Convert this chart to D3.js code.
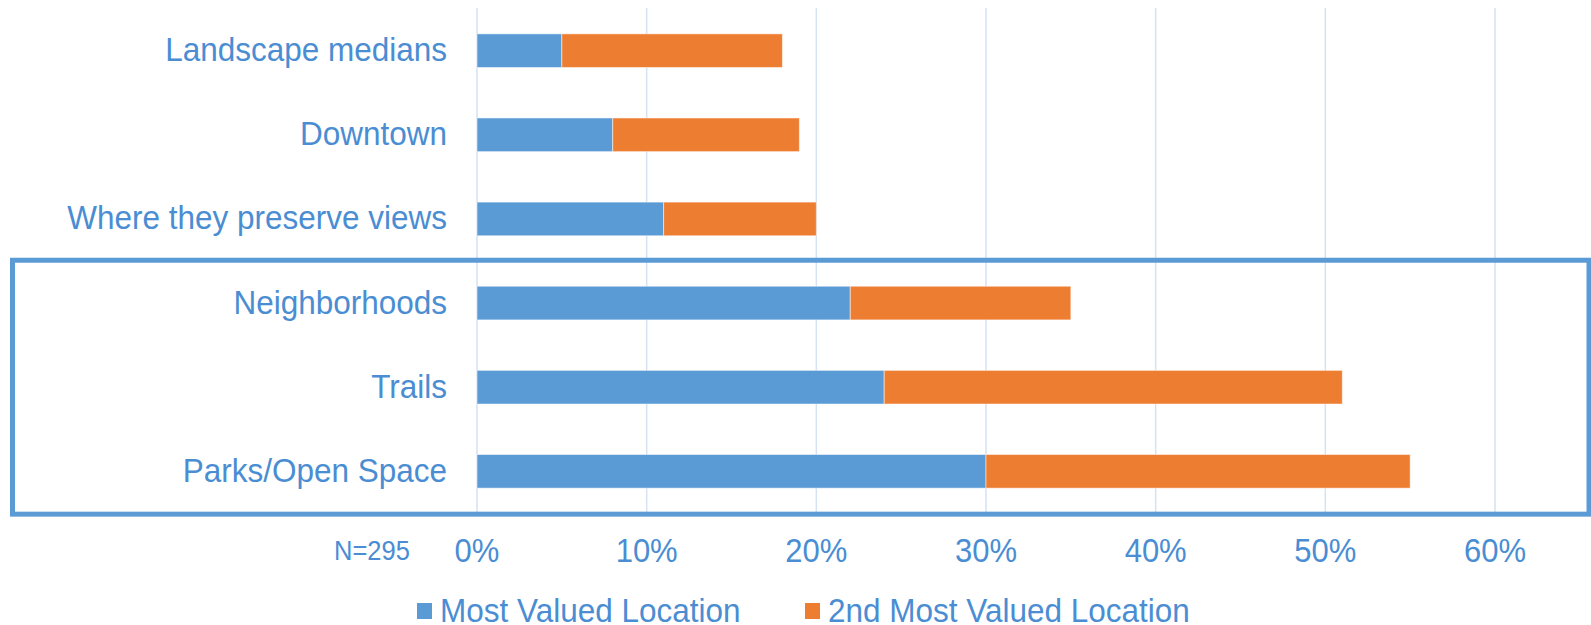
<!DOCTYPE html>
<html>
<head>
<meta charset="utf-8">
<script src="https://cdn.jsdelivr.net/npm/d3@7"></script>
<style>
  html, body { margin: 0; padding: 0; background: #fff; overflow: hidden; }
  text { font-family: "Liberation Sans", Arial, sans-serif; fill: #4a8dd3; }
</style>
</head>
<body>
<div id="chart"></div>
<script>
// Data
const categories = [
  "Landscape medians",
  "Downtown",
  "Where they preserve views",
  "Neighborhoods",
  "Trails",
  "Parks/Open Space",
];
const mostValued = [5, 8, 11, 22, 24, 30];
const secondValued = [13, 11, 9, 13, 27, 25];
const tickValues = [0, 10, 20, 30, 40, 50, 60];
const seriesNames = ["Most Valued Location", "2nd Most Valued Location"];
const highlighted = ["Neighborhoods", "Trails", "Parks/Open Space"];
const sampleNote = "N=295";

const colors = ["#5b9bd5", "#ed7d31"];

const width = 1591;
const height = 625;
const plot = { left: 477, right: 1495, top: 8, bottom: 513 };
const stretch = 1.07; // text in the original is drawn a little tall

const svg = d3
  .select("#chart")
  .append("svg")
  .attr("width", width)
  .attr("height", height);

// Scales
const x = d3.scaleLinear().domain([0, 60]).range([plot.left, plot.right]);
const y = d3
  .scaleBand()
  .domain(categories)
  .range([plot.top + 0.6, plot.bottom + 0.4])
  .paddingInner(0.6)
  .paddingOuter(0.3);

// Gridlines
svg
  .append("g")
  .selectAll("line")
  .data(tickValues)
  .join("line")
  .attr("x1", (d) => x(d))
  .attr("x2", (d) => x(d))
  .attr("y1", plot.top)
  .attr("y2", plot.bottom)
  .attr("stroke", "#d5e2f2")
  .attr("stroke-width", 1.5);

// Stacked bars
const rows = categories.map((c, i) => ({
  name: c,
  a: mostValued[i],
  b: secondValued[i],
}));
const stack = d3.stack().keys(["a", "b"])(rows);

svg
  .append("g")
  .selectAll("g")
  .data(stack)
  .join("g")
  .attr("fill", (d, i) => colors[i])
  .selectAll("rect")
  .data((d) => d)
  .join("rect")
  .attr("x", (d) => x(d[0]))
  .attr("width", (d) => x(d[1]) - x(d[0]))
  .attr("y", (d) => y(d.data.name))
  .attr("height", y.bandwidth())
  .attr("stroke", "#ffffff")
  .attr("stroke-opacity", 0.5)
  .attr("stroke-width", 1);

// Category labels
svg
  .append("g")
  .selectAll("text")
  .data(categories)
  .join("text")
  .attr(
    "transform",
    (d) => `translate(447,${y(d) + y.bandwidth() / 2 + 10.5}) scale(1,${stretch})`
  )
  .attr("text-anchor", "end")
  .style("font-size", "31.5px")
  .text((d) => d);

// Highlight box round the top three
const hiTop = y(highlighted[0]);
const hiBottom = y(highlighted[highlighted.length - 1]) + y.bandwidth();
svg
  .append("rect")
  .attr("x", 12.5)
  .attr("y", hiTop - 26)
  .attr("width", 1589 - 12.5)
  .attr("height", hiBottom - hiTop + 52)
  .attr("fill", "none")
  .attr("stroke", "#5b9bd5")
  .attr("stroke-width", 5);

// X axis tick labels
svg
  .append("g")
  .selectAll("text")
  .data(tickValues)
  .join("text")
  .attr("transform", (d) => `translate(${x(d)},562) scale(1,${stretch})`)
  .attr("text-anchor", "middle")
  .style("font-size", "31px")
  .text((d) => d + "%");

svg
  .append("text")
  .attr("transform", `translate(334,560) scale(1,${stretch})`)
  .style("font-size", "25.5px")
  .text(sampleNote);

// Legend
const legendX = [417, 805];
const legend = svg
  .append("g")
  .selectAll("g")
  .data(seriesNames)
  .join("g")
  .attr("transform", (d, i) => `translate(${legendX[i]},0)`);
legend
  .append("rect")
  .attr("x", 0)
  .attr("y", 603)
  .attr("width", 15)
  .attr("height", 16)
  .attr("fill", (d, i) => colors[i]);
legend
  .append("text")
  .attr("transform", `translate(23,622) scale(1,${stretch})`)
  .style("font-size", "31.5px")
  .text((d) => d);
</script>
</body>
</html>
